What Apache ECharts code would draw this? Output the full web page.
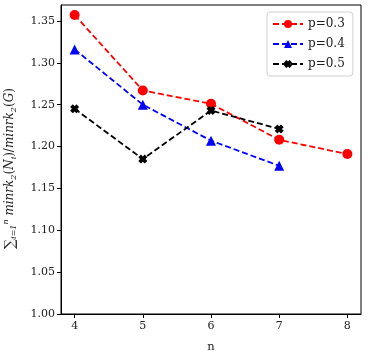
<!DOCTYPE html>
<html>
<head>
<meta charset="utf-8">
<script src="https://cdn.jsdelivr.net/npm/echarts@6/dist/echarts.min.js"></script>
<style>
  html, body { margin: 0; padding: 0; background: #fff; }
  #chart { width: 368px; height: 358px; }
</style>
</head>
<body>
<div id="chart"></div>
<script>
// Values.
const nValues = [4, 5, 6, 7, 8]
const p03 = [1.357, 1.267, 1.251, 1.208, 1.191]
const p04 = [1.316, 1.250, 1.207, 1.177]
const p05 = [1.245, 1.185, 1.243, 1.221]
const yTicks = [1.00, 1.05, 1.10, 1.15, 1.20, 1.25, 1.30, 1.35]

const FONT = "DejaVu Serif"
// filled "X" marker, like matplotlib's 'X'
const X_MARK = "path://M3,0 L5,2 L7,0 L10,3 L8,5 L10,7 L7,10 L5,8 L3,10 L0,7 L2,5 L0,3 Z"

const pairs = (ys) => ys.map((y, i) => [nValues[i], y])

const makeSeries = (name, ys, color, symbol, size) => ({
  name,
  type: "line",
  data: pairs(ys),
  symbol,
  symbolSize: size,
  showSymbol: true,
  lineStyle: {color, width: 1.8, type: [6, 3]},
  itemStyle: {color},
  emphasis: {disabled: true},
  z: 3,
})

const chart = echarts.init(document.getElementById("chart"), null, {renderer: "canvas"})

const sm = {fontSize: 8, fontFamily: FONT, fontStyle: "italic", color: "#222", lineHeight: 7}

chart.setOption({
  animation: false,
  textStyle: {fontFamily: FONT},
  grid: {
    left: 61, right: 7, top: 5, bottom: 44,
    outerBoundsMode: "none",
    containLabel: false,
    show: true, borderColor: "#000", borderWidth: 1, backgroundColor: "transparent",
  },
  legend: {
    orient: "vertical",
    left: 267, top: 12,
    padding: [6, 8, 6, 5],
    itemGap: 8,
    itemWidth: 30,
    itemHeight: 10,
    borderColor: "#d0d0d0",
    borderWidth: 1,
    borderRadius: 3,
    backgroundColor: "#fff",
    textStyle: {fontFamily: FONT, fontSize: 12, color: "#222"},
    data: ["p=0.3", "p=0.4", "p=0.5"],
  },
  xAxis: {
    type: "value",
    min: 3.8,
    max: 8.2,
    name: "n",
    nameLocation: "middle",
    nameGap: 27,
    nameTextStyle: {fontFamily: FONT, fontSize: 11.5, color: "#222"},
    splitLine: {show: false},
    axisLine: {show: true, onZero: false, lineStyle: {color: "#000"}},
    axisTick: {show: true, inside: false, length: 4, customValues: nValues, lineStyle: {color: "#000"}},
    axisLabel: {customValues: nValues, fontFamily: FONT, fontSize: 11, color: "#222", margin: 7},
  },
  yAxis: {
    type: "value",
    min: 1.0,
    max: 1.369,
    name: "{sum|∑}{sub|i=1}{sup|n}{rm| }{it|minrk}{sub|2}{rm|(}{it|N}{sub|i}{rm|)/}{it|minrk}{sub|2}{rm|(}{it|G}{rm|)}",
    nameLocation: "middle",
    nameRotate: 90,
    nameGap: 43,
    nameTextStyle: {
      fontFamily: FONT,
      color: "#222",
      padding: [0, 18, 0, 0],
      rich: {
        sum: {fontSize: 14, fontFamily: FONT, color: "#222", lineHeight: 16, verticalAlign: "middle"},
        sub: Object.assign({}, sm, {verticalAlign: "bottom"}),
        sup: Object.assign({}, sm, {verticalAlign: "top"}),
        it: {fontSize: 12, fontFamily: FONT, fontStyle: "italic", color: "#222", lineHeight: 13, verticalAlign: "middle"},
        rm: {fontSize: 12, fontFamily: FONT, color: "#222", lineHeight: 13, verticalAlign: "middle"},
      },
    },
    splitLine: {show: false},
    axisLine: {show: true, onZero: false, lineStyle: {color: "#000"}},
    axisTick: {show: true, inside: false, length: 4, customValues: yTicks, lineStyle: {color: "#000"}},
    axisLabel: {
      customValues: yTicks,
      fontFamily: FONT, fontSize: 11, color: "#222", margin: 6,
      formatter: (v) => v.toFixed(2),
    },
  },
  series: [
    makeSeries("p=0.3", p03, "#ff0000", "circle", 10),
    makeSeries("p=0.4", p04, "#0000ff", "triangle", 10),
    makeSeries("p=0.5", p05, "#000000", X_MARK, 9),
  ],
})
</script>
</body>
</html>
